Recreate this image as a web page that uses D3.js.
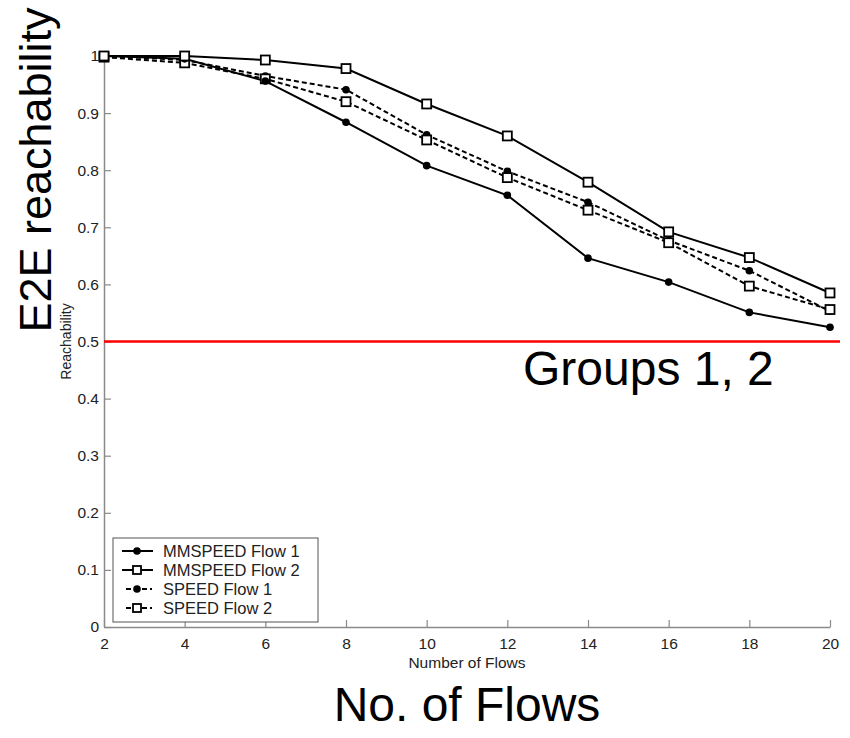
<!DOCTYPE html>
<html>
<head>
<meta charset="utf-8">
<script src="https://cdn.jsdelivr.net/npm/d3@7/dist/d3.min.js"></script>
<style>
  html, body { margin: 0; padding: 0; background: #fff; }
  svg { display: block; font-family: "Liberation Sans", Arial, sans-serif; }
</style>
</head>
<body>
<svg id="chart" width="850" height="738"></svg>
<script>
const flows = [2, 4, 6, 8, 10, 12, 14, 16, 18, 20];
const mmspeedFlow1 = [1.0, 0.995, 0.956, 0.884, 0.808, 0.756, 0.646, 0.604, 0.551, 0.525];
const mmspeedFlow2 = [1.0, 1.0, 0.993, 0.978, 0.916, 0.860, 0.779, 0.692, 0.647, 0.585];
const speedFlow1   = [1.0, 0.993, 0.965, 0.941, 0.862, 0.798, 0.744, 0.677, 0.624, 0.553];
const speedFlow2   = [0.998, 0.988, 0.960, 0.920, 0.853, 0.787, 0.730, 0.673, 0.597, 0.556];
const seriesNames  = ["MMSPEED Flow 1", "MMSPEED Flow 2", "SPEED Flow 1", "SPEED Flow 2"];
const xTicks = [2, 4, 6, 8, 10, 12, 14, 16, 18, 20];
const yTicks = [0, 0.1, 0.2, 0.3, 0.4, 0.5, 0.6, 0.7, 0.8, 0.9, 1];
const threshold = 0.5;

const series = [
  { name: seriesNames[0], values: mmspeedFlow1, dashed: false, marker: "circle" },
  { name: seriesNames[1], values: mmspeedFlow2, dashed: false, marker: "square" },
  { name: seriesNames[2], values: speedFlow1,   dashed: true,  marker: "circle" },
  { name: seriesNames[3], values: speedFlow2,   dashed: true,  marker: "square" }
];

const svg = d3.select("#chart");
const pLeft = 104, pRight = 830, pTop = 56, pBottom = 627;

const x = d3.scaleLinear().domain([2, 20]).range([pLeft, pRight]);
const y = d3.scaleLinear().domain([0, 1]).range([pBottom, pTop]);

// Axes (MATLAB style, ticks inward)
const axisColor = "#8a8a8a";
const xAxis = svg.append("g").attr("transform", `translate(0,${pBottom})`)
  .call(d3.axisBottom(x).tickValues(xTicks).tickSizeInner(-7).tickSizeOuter(0).tickPadding(11).tickFormat(d3.format("d")));
const yAxis = svg.append("g").attr("transform", `translate(${pLeft},0)`)
  .call(d3.axisLeft(y).tickValues(yTicks).tickSizeInner(-7).tickSizeOuter(0).tickPadding(5).tickFormat(d => d === 0 ? "0" : d === 1 ? "1" : d3.format(".1f")(d)));
[xAxis, yAxis].forEach(g => {
  g.select(".domain").attr("stroke", axisColor).attr("stroke-width", 1.5);
  g.selectAll(".tick line").attr("stroke", axisColor).attr("stroke-width", 1.2);
  g.selectAll(".tick text").attr("fill", "#222").style("font-size", "15.5px").style("font-family", "'Liberation Sans', Arial, sans-serif");
});

svg.append("text").attr("x", 467).attr("y", 668)
  .attr("text-anchor", "middle").style("font-size", "15.5px").attr("fill", "#222")
  .text("Number of Flows");
svg.append("text").attr("transform", `translate(71,${(pTop + pBottom) / 2}) rotate(-90)`)
  .attr("text-anchor", "middle").style("font-size", "14px").attr("fill", "#222")
  .text("Reachability");

// Lines and markers
const line = d3.line().x((d, i) => x(flows[i])).y(d => y(d));
const drawOrder = [2, 3, 0, 1];
drawOrder.forEach(k => {
  const s = series[k];
  svg.append("path").datum(s.values)
    .attr("d", line).attr("fill", "none").attr("stroke", "#000")
    .attr("stroke-width", 2)
    .attr("stroke-dasharray", s.dashed ? "5,3" : null);
});
drawOrder.forEach(k => {
  const s = series[k];
  const g = svg.append("g");
  if (s.marker === "circle") {
    g.selectAll("circle").data(s.values).join("circle")
      .attr("cx", (d, i) => x(flows[i])).attr("cy", d => y(d)).attr("r", 3.8).attr("fill", "#000");
  } else {
    g.selectAll("rect").data(s.values).join("rect")
      .attr("x", (d, i) => x(flows[i]) - 4.5).attr("y", d => y(d) - 4.5)
      .attr("width", 9).attr("height", 9).attr("fill", "#fff").attr("stroke", "#000").attr("stroke-width", 1.8);
  }
});

// Legend
const lg = svg.append("g");
lg.append("rect").attr("x", 113).attr("y", 538).attr("width", 205).attr("height", 84)
  .attr("fill", "#fff").attr("stroke", "#555").attr("stroke-width", 1);
series.forEach((s, i) => {
  const cy = 551 + i * 19;
  lg.append("line").attr("x1", s.dashed ? 126 : 122).attr("x2", s.dashed ? 152 : 153)
    .attr("y1", cy).attr("y2", cy).attr("stroke", "#000").attr("stroke-width", 2)
    .attr("stroke-dasharray", s.dashed ? "5,3" : null);
  if (s.marker === "circle") {
    lg.append("circle").attr("cx", 137).attr("cy", cy).attr("r", 3.8).attr("fill", "#000");
  } else {
    lg.append("rect").attr("x", 133).attr("y", cy - 4).attr("width", 8).attr("height", 8)
      .attr("fill", "#fff").attr("stroke", "#000").attr("stroke-width", 1.8);
  }
  lg.append("text").attr("x", 163).attr("y", cy).attr("dy", "0.36em")
    .style("font-size", "16.5px").attr("fill", "#222").text(s.name);
});

// Red threshold line
svg.append("line").attr("x1", pLeft).attr("x2", 840).attr("y1", y(threshold)).attr("y2", y(threshold))
  .attr("stroke", "#ff0000").attr("stroke-width", 2.5);

// Overlay annotations
svg.append("text").attr("x", 523).attr("y", 385).style("font-size", "48px").attr("fill", "#000")
  .text("Groups 1, 2");
svg.append("text").attr("x", 467).attr("y", 721).attr("text-anchor", "middle")
  .style("font-size", "48px").attr("fill", "#000").text("No. of Flows");
svg.append("text").attr("transform", "translate(51,170) rotate(-90)").attr("text-anchor", "middle")
  .style("font-size", "45px").attr("fill", "#000").text("E2E reachability");
</script>
</body>
</html>
